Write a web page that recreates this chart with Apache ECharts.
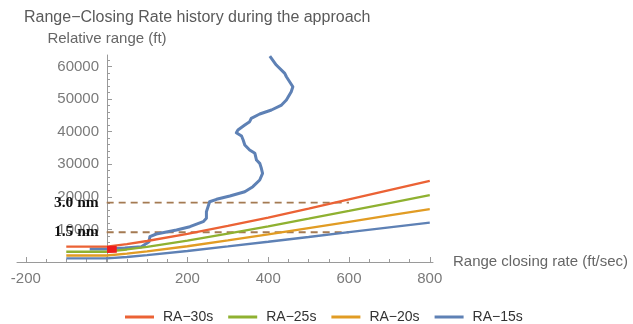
<!DOCTYPE html>
<html>
<head>
<meta charset="utf-8">
<script src="https://cdn.jsdelivr.net/npm/echarts@6/dist/echarts.min.js"></script>
<style>
  html, body { margin: 0; padding: 0; background: #fff; }
  #chart { width: 633px; height: 324px; }
</style>
</head>
<body>
<div id="chart"></div>
<script>
// Range closing rate (ft/sec) at which each RA boundary is sampled
const rates = [-100, 0, 50, 100, 200, 300, 400, 500, 600, 700, 800];
// RA boundaries: relative range (ft) per tau setting
const ra30 = [4700, 4700, 5510, 6440, 8600, 11050, 13650, 16380, 19190, 22040, 24900];
const ra25 = [3150, 3150, 3840, 4640, 6550, 8680, 10940, 13290, 15680, 18090, 20500];
const ra20 = [2000, 2000, 2560, 3240, 4830, 6610, 8480, 10400, 12340, 14300, 16250];
const ra15 = [1100, 1100, 1540, 2080, 3370, 4770, 6210, 7670, 9150, 10630, 12100];
const raNames = ['RA\u221230s', 'RA\u221225s', 'RA\u221220s', 'RA\u221215s'];
const raColors = ['#EB6235', '#8FB131', '#E19C24', '#5E81B5'];

// Encounter track: closing rate (ft/sec) and relative range (ft)
const trackRate = [404, 420, 441, 445, 453, 461, 457, 445, 433, 408, 379, 358, 354, 342, 325, 321,
  334, 338, 342, 354, 367, 371, 379, 383, 386, 379, 362, 342, 305, 272, 255, 251, 247, 247,
  239, 206, 173, 123, 107, 105, 86, 45, 0, -42];
const trackRange = [63180, 60420, 57870, 56830, 55300, 53760, 52230, 49690, 48150, 46620, 45390,
  44070, 43030, 42020, 40480, 39660, 38640, 37420, 35880, 34350, 33340, 31280, 30270, 28740,
  27200, 25150, 23100, 21560, 20240, 19230, 18490, 16960, 15430, 13400, 12360, 10830, 9810,
  8590, 7760, 6230, 4690, 4290, 3990, 3990];

// Alert segment near zero closing rate
const alertRate = [1, 25];
const alertRange = [3850, 3900];

// Reference ranges (1 nm = 6076 ft)
const thresholdLabels = ['3.0 nm', '1.5 nm'];
const thresholdRanges = [18228, 9114];
const thresholdRates = [0, 600];

// Axis tick values
const rateMajorTicks = [-200, 0, 200, 400, 600, 800];
const rateTickLabels = [-200, 200, 400, 600, 800];
const rateMinorTicks = [-150, -100, -50, 50, 100, 150, 250, 300, 350, 450, 500, 550, 650, 700, 750];
const rangeMajorTicks = [0, 10000, 20000, 30000, 40000, 50000, 60000];
const rangeTickLabels = [10000, 20000, 30000, 40000, 50000, 60000];
const rangeMinorTicks = [2000, 4000, 6000, 8000, 12000, 14000, 16000, 18000, 22000, 24000, 26000,
  28000, 32000, 34000, 36000, 38000, 42000, 44000, 46000, 48000, 52000, 54000, 56000, 58000, 62000];

const pairs = (xs, ys) => xs.map((x, i) => [x, ys[i]]);

const axisGray = '#9a9a9a';
const labelGray = '#7a7a7a';
const fontSans = '"Liberation Sans", Arial, sans-serif';
const plain = v => String(v);

// The range axis sits at zero closing rate, shifted right from the grid edge
const rateMin = -222, rateMax = 808;
const gridLeft = 17, gridRight = 200;
const plotWidth = 633 - gridLeft - gridRight;
const rangeAxisShift = -Math.round((0 - rateMin) / (rateMax - rateMin) * plotWidth);

const raSeries = [ra30, ra25, ra20, ra15].map((vals, i) => ({
  name: raNames[i],
  type: 'line',
  data: pairs(rates, vals),
  showSymbol: false,
  symbol: 'none',
  lineStyle: { color: raColors[i], width: 2.3 },
  itemStyle: { color: raColors[i] },
  z: 3
}));

const thresholdSeries = thresholdRanges.map((r, i) => ({
  name: thresholdLabels[i],
  type: 'line',
  data: thresholdRates.map((x, j) => ({
    value: [x, r],
    label: j === 0 ? {
      show: true,
      position: 'left',
      distance: 8,
      formatter: thresholdLabels[i],
      fontFamily: '"Liberation Serif", "Times New Roman", serif',
      fontWeight: 'bold',
      fontSize: 15.5,
      color: '#111'
    } : { show: false }
  })),
  showSymbol: true,
  symbol: 'circle',
  symbolSize: 0,
  itemStyle: { color: 'rgba(0,0,0,0)' },
  lineStyle: { color: '#a47a52', width: 1.9, type: [7, 5] },
  z: 2,
  silent: true
}));

const option = {
  animation: false,
  backgroundColor: '#fff',
  title: {
    text: 'Range\u2212Closing Rate history during the approach',
    left: 19,
    top: 5,
    textStyle: { fontFamily: fontSans, fontSize: 16, fontWeight: 'normal', color: '#5a5a5a' }
  },
  legend: {
    data: raNames,
    left: 120,
    top: 305,
    icon: 'rect',
    itemWidth: 29,
    itemHeight: 3,
    itemGap: 15,
    textStyle: { fontFamily: fontSans, fontSize: 14, color: '#333', padding: [0, 0, 0, 4] }
  },
  grid: { left: gridLeft, right: gridRight, top: 55, bottom: 62, containLabel: false, outerBoundsMode: 'none' },
  xAxis: [
    {
      type: 'value',
      min: rateMin,
      max: rateMax,
      position: 'bottom',
      name: 'Range closing rate (ft/sec)',
      nameLocation: 'end',
      nameGap: 20,
      nameTextStyle: { fontFamily: fontSans, fontSize: 15, color: '#666', verticalAlign: 'middle' },
      axisLine: { show: true, onZero: false, lineStyle: { color: axisGray, width: 1 } },
      axisTick: { show: true, inside: true, length: 5, customValues: rateMajorTicks, lineStyle: { color: axisGray } },
      axisLabel: { show: true, customValues: rateTickLabels, formatter: plain, margin: 9, fontFamily: fontSans, fontSize: 15, color: labelGray },
      splitLine: { show: false }
    },
    {
      type: 'value',
      min: rateMin,
      max: rateMax,
      position: 'bottom',
      axisLine: { show: false, onZero: false },
      axisTick: { show: true, inside: true, length: 3, customValues: rateMinorTicks, lineStyle: { color: axisGray } },
      axisLabel: { show: false },
      splitLine: { show: false }
    }
  ],
  yAxis: [
    {
      type: 'value',
      min: 0,
      max: 63500,
      position: 'left',
      offset: rangeAxisShift,
      name: 'Relative range (ft)',
      nameLocation: 'end',
      nameGap: 9,
      nameTextStyle: { fontFamily: fontSans, fontSize: 15, color: '#666' },
      axisLine: { show: true, onZero: false, lineStyle: { color: axisGray, width: 1 } },
      axisTick: { show: true, inside: true, length: 5, customValues: rangeMajorTicks, lineStyle: { color: axisGray } },
      axisLabel: { show: true, customValues: rangeTickLabels, formatter: plain, margin: 8, fontFamily: fontSans, fontSize: 15, color: labelGray },
      splitLine: { show: false }
    },
    {
      type: 'value',
      min: 0,
      max: 63500,
      position: 'left',
      offset: rangeAxisShift,
      axisLine: { show: false, onZero: false },
      axisTick: { show: true, inside: true, length: 3, customValues: rangeMinorTicks, lineStyle: { color: axisGray } },
      axisLabel: { show: false },
      splitLine: { show: false }
    }
  ],
  series: [
    ...thresholdSeries,
    {
      name: 'track',
      type: 'line',
      data: pairs(trackRate, trackRange),
      showSymbol: false,
      symbol: 'none',
      lineStyle: { color: '#5E81B5', width: 3, join: 'round' },
      z: 2
    },
    ...raSeries,
    {
      name: 'alert',
      type: 'line',
      data: pairs(alertRate, alertRange),
      showSymbol: false,
      symbol: 'none',
      lineStyle: { color: '#ee1c1c', width: 7 },
      z: 4
    }
  ]
};

const chart = echarts.init(document.getElementById('chart'), null, { renderer: 'canvas' });
chart.setOption(option);
</script>
</body>
</html>
